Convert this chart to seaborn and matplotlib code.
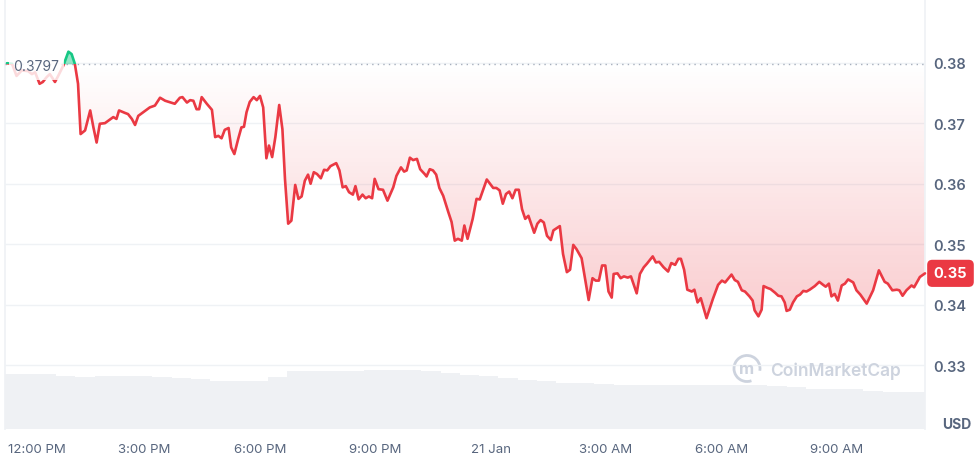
import numpy as np
import pandas as pd
import seaborn as sns
import matplotlib.pyplot as plt
import matplotlib.transforms as mtransforms
from matplotlib.patches import Rectangle, PathPatch, Arc
from matplotlib.path import Path

# price series, minutes after 20 Jan 12:00 PM
minutes = [-35, -27, -20, -12, -2, 4, 9, 16, 21, 27, 32, 40, 45, 53, 61, 66, 71, 76, 80, 87,
           95, 100, 105, 110, 118, 131, 136, 140, 149, 154, 160, 165, 170, 183, 188, 196, 204, 212, 227, 235,
           239, 246, 251, 256, 261, 265, 269, 277, 285, 290, 295, 300, 305, 311, 315, 320, 326, 331, 335, 339,
           344, 350, 355, 360, 365, 370, 374, 379, 384, 390, 395, 399, 404, 409, 415, 420, 425, 430, 435, 439,
           444, 449, 455, 460, 465, 470, 479, 484, 489, 494, 499, 505, 509, 514, 520, 525, 530, 535, 539, 545,
           552, 559, 568, 573, 580, 585, 589, 594, 599, 605, 610, 617, 620, 625, 630, 635, 640, 646, 654, 659,
           664, 669, 675, 679, 684, 692, 698, 703, 714, 724, 729, 734, 739, 744, 749, 754, 759, 764, 769, 774,
           779, 788, 793, 798, 803, 808, 814, 818, 828, 833, 839, 844, 849, 854, 862, 867, 873, 879, 884, 889,
           894, 899, 904, 909, 912, 918, 923, 928, 934, 939, 948, 953, 959, 964, 973, 978, 983, 990, 997, 1002,
           1008, 1013, 1017, 1022, 1027, 1034, 1038, 1043, 1048, 1057, 1067, 1075, 1081, 1086, 1096, 1101, 1106, 1112, 1117, 1124,
           1129, 1132, 1138, 1143, 1146, 1152, 1157, 1164, 1169, 1174, 1179, 1182, 1187, 1192, 1198, 1203, 1208, 1213, 1218, 1226,
           1233, 1239, 1243, 1248, 1252, 1257, 1262, 1268, 1273, 1278, 1286, 1291, 1297, 1307, 1317, 1326, 1335, 1340, 1347, 1354,
           1358, 1363, 1369, 1377, 1381, 1390, 1398]
prices = [0.3799, 0.3798, 0.3778, 0.3787, 0.3786, 0.3781, 0.3784, 0.3765, 0.3768, 0.3776, 0.3781, 0.3768, 0.3778, 0.3795, 0.3818, 0.3814, 0.3798, 0.3765, 0.3682, 0.3688,
          0.3721, 0.3693, 0.3668, 0.3699, 0.3700, 0.3710, 0.3707, 0.3721, 0.3717, 0.3715, 0.3707, 0.3697, 0.3712, 0.3722, 0.3726, 0.3729, 0.3742, 0.3737, 0.3732, 0.3742,
          0.3743, 0.3734, 0.3738, 0.3737, 0.3723, 0.3723, 0.3743, 0.3732, 0.3722, 0.3677, 0.3679, 0.3675, 0.3689, 0.3692, 0.3660, 0.3649, 0.3674, 0.3693, 0.3694, 0.3718,
          0.3735, 0.3743, 0.3738, 0.3745, 0.3726, 0.3642, 0.3663, 0.3644, 0.3677, 0.3730, 0.3690, 0.3608, 0.3534, 0.3539, 0.3598, 0.3575, 0.3579, 0.3605, 0.3615, 0.3600,
          0.3619, 0.3616, 0.3609, 0.3623, 0.3622, 0.3629, 0.3634, 0.3622, 0.3594, 0.3596, 0.3586, 0.3582, 0.3596, 0.3574, 0.3582, 0.3576, 0.3579, 0.3576, 0.3608, 0.3591,
          0.3590, 0.3572, 0.3594, 0.3613, 0.3627, 0.3620, 0.3622, 0.3643, 0.3639, 0.3641, 0.3624, 0.3616, 0.3612, 0.3624, 0.3622, 0.3615, 0.3593, 0.3580, 0.3553, 0.3537,
          0.3506, 0.3509, 0.3506, 0.3531, 0.3509, 0.3542, 0.3575, 0.3574, 0.3607, 0.3593, 0.3593, 0.3589, 0.3567, 0.3583, 0.3587, 0.3576, 0.3590, 0.3590, 0.3558, 0.3542,
          0.3547, 0.3519, 0.3534, 0.3540, 0.3536, 0.3514, 0.3507, 0.3523, 0.3530, 0.3484, 0.3454, 0.3458, 0.3499, 0.3492, 0.3477, 0.3446, 0.3408, 0.3444, 0.3440, 0.3440,
          0.3465, 0.3465, 0.3422, 0.3412, 0.3451, 0.3452, 0.3444, 0.3447, 0.3445, 0.3447, 0.3419, 0.3451, 0.3462, 0.3468, 0.3480, 0.3470, 0.3471, 0.3462, 0.3455, 0.3469,
          0.3466, 0.3476, 0.3476, 0.3458, 0.3425, 0.3422, 0.3425, 0.3404, 0.3411, 0.3378, 0.3410, 0.3433, 0.3440, 0.3437, 0.3450, 0.3441, 0.3438, 0.3424, 0.3422, 0.3414,
          0.3407, 0.3391, 0.3381, 0.3392, 0.3431, 0.3428, 0.3426, 0.3420, 0.3415, 0.3414, 0.3404, 0.3390, 0.3392, 0.3404, 0.3414, 0.3417, 0.3423, 0.3422, 0.3425, 0.3431,
          0.3438, 0.3433, 0.3430, 0.3435, 0.3414, 0.3418, 0.3407, 0.3432, 0.3435, 0.3442, 0.3437, 0.3424, 0.3417, 0.3402, 0.3424, 0.3457, 0.3438, 0.3435, 0.3424, 0.3425,
          0.3424, 0.3415, 0.3424, 0.3432, 0.3429, 0.3446, 0.3452]

# half-hour volume (M USD), bins starting 11:12 AM
vol_start = list(range(-48, 1422, 30))
volume = [5.5, 5.5, 5.5, 5.33, 5.25, 5.3, 5.3, 5.3, 5.17, 5.1,
          5.0, 4.83, 4.83, 4.83, 5.2, 5.8, 5.83, 5.83, 5.83, 5.9,
          5.93, 5.9, 5.85, 5.57, 5.4, 5.33, 5.1, 4.95, 4.83, 4.65,
          4.6, 4.5, 4.4, 4.4, 4.4, 4.4, 4.4, 4.4, 4.4, 4.4,
          4.3, 4.25, 4.0, 4.0, 4.0, 3.85, 3.75, 3.75, 3.75]

tick_minutes = [0, 180, 360, 540, 720, 900, 1080, 1260]
tick_labels = ["12:00 PM", "3:00 PM", "6:00 PM", "9:00 PM", "21 Jan", "3:00 AM", "6:00 AM", "9:00 AM"]
price_ticks = [0.33, 0.34, 0.35, 0.36, 0.37, 0.38]
open_price = 0.3797

RED = "#ea3943"
GREEN = "#16c784"
GREY = "#58667e"
GRID = "#eff2f5"

sns.set_theme(style="white")
plt.rcParams["font.family"] = ["Inter", "DejaVu Sans"]

df = pd.DataFrame({"minute": minutes, "price": prices})
vol = pd.DataFrame({"start": vol_start, "volume": volume})

fig = plt.figure(figsize=(9.76, 4.56), dpi=100)
ax = fig.add_axes([5 / 976, 26 / 456, 920 / 976, 430 / 456])
ax2 = ax.twinx()
ax.set_zorder(ax2.get_zorder() + 1)
ax.patch.set_visible(False)

# volume bars at the bottom
ax2.bar(vol["start"] + 15, vol["volume"], width=30, color="#eff1f4", linewidth=0)
ax2.set_ylim(0, 43)
ax2.axis("off")

xmin, xmax = -38, 1398
ymin, ymax = 0.3195, 0.3905

# red gradient between line and open price
poly = ax.fill_between(df["minute"], df["price"], open_price, where=df["price"] <= open_price,
                       interpolate=True, facecolor="none", linewidth=0)
clip = PathPatch(Path.make_compound_path(*poly.get_paths()), transform=ax.transData,
                 facecolor="none", edgecolor="none")
ax.add_patch(clip)
grad = np.zeros((256, 1, 4))
grad[:, 0, :3] = [0.918, 0.224, 0.263]
grad[:, 0, 3] = np.linspace(0.26, 0.0, 256)
im = ax.imshow(grad, extent=[xmin, xmax, 0.3370, open_price], origin="lower", aspect="auto", zorder=1)
im.set_clip_path(clip)

# green fill above open price
ax.fill_between(df["minute"], df["price"], open_price, where=df["price"] >= open_price,
                interpolate=True, color=GREEN, alpha=0.45, linewidth=0, zorder=2)

# line, red below the open and green above it
below = Rectangle((xmin - 100, 0.30), 2000, open_price - 0.30, transform=ax.transData)
above = Rectangle((xmin - 100, open_price), 2000, 0.1, transform=ax.transData)
sns.lineplot(data=df, x="minute", y="price", ax=ax, color=RED, linewidth=1.9, zorder=4)
ax.lines[-1].set_clip_path(below)
sns.lineplot(data=df, x="minute", y="price", ax=ax, color=GREEN, linewidth=1.9, zorder=4)
ax.lines[-1].set_clip_path(above)

ax.axhline(open_price, color="#a6afbd", linestyle=(0, (1, 3)), linewidth=1, zorder=3)

# faded label box for the open price
ax.add_patch(Rectangle((-31, 0.3771), 85, 0.0046, facecolor="white", alpha=0.82,
                       edgecolor="none", zorder=5))
ax.text(-26, 0.3794, "0.3797", color=GREY, fontsize=10, va="center", ha="left", zorder=6)

# axes styling
ax.set_xlim(xmin, xmax)
ax.set_ylim(ymin, ymax)
ax.set_xticks(tick_minutes)
ax.set_xticklabels(tick_labels)
ax.set_yticks(price_ticks)
ax.set_yticklabels([f"{t:.2f}" for t in price_ticks])
ax.yaxis.tick_right()
ax.set_xlabel("")
ax.set_ylabel("")
ax.grid(axis="y", color=GRID, linewidth=1)
ax.grid(axis="x", visible=False)
ax.tick_params(axis="x", length=0, pad=10, labelsize=9.5, labelcolor=GREY)
ax.tick_params(axis="y", length=0, pad=6, labelsize=10.5, labelcolor=GREY)
for lab in ax.get_yticklabels():
    lab.set_fontweight("semibold")
# first time label is pushed right so it stays inside the chart
first = ax.get_xticklabels()[0]
first.set_transform(first.get_transform() + mtransforms.ScaledTranslation(0.08, 0, fig.dpi_scale_trans))
for side in ["top", "bottom"]:
    ax.spines[side].set_visible(False)
for side in ["left", "right"]:
    ax.spines[side].set_color(GRID)

# current price tag
trans = mtransforms.blended_transform_factory(ax.transAxes, ax.transData)
ax.text(1.0095, prices[-1], f"{prices[-1]:.2f}", transform=trans, color="white", fontsize=10.5,
        fontweight="bold", va="center", ha="left", zorder=7, clip_on=False,
        bbox=dict(boxstyle="round,pad=0.45,rounding_size=0.35", facecolor=RED, edgecolor="none"))

fig.text(957 / 976, 31 / 456, "USD", color=GREY, fontsize=10, fontweight="bold", ha="center", va="center")

# watermark
WM = "#cdd3de"
fig.add_artist(Arc((7.47, 0.865), 0.26, 0.26, theta1=-10, theta2=290, transform=fig.dpi_scale_trans,
                   color=WM, linewidth=2))
fig.text(747 / 976, 86 / 456, "m", color=WM, fontsize=12, fontweight="bold", ha="center", va="center")
fig.text(770 / 976, 85 / 456, "CoinMarketCap", color=WM, fontsize=12.5, fontweight="semibold",
         ha="left", va="center")

fig.savefig("out.png", dpi=100)
